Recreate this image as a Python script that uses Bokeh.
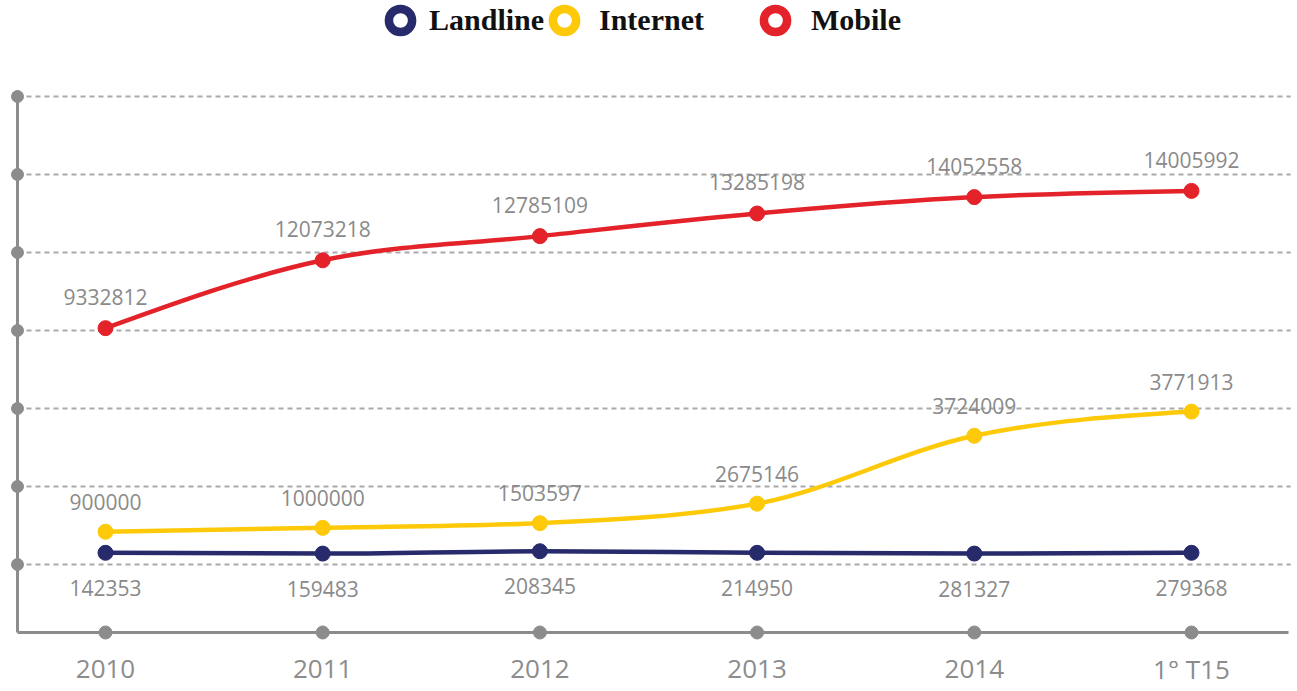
from bokeh.plotting import figure
from bokeh.models import Range1d, ColumnDataSource, Legend, LegendItem
from bokeh.embed import file_html
from bokeh.resources import INLINE
from bokeh.core.properties import value
import numpy as np

# ---------------- data ----------------
categories = ["2010", "2011", "2012", "2013", "2014", "1° T15"]
landline = [142353, 159483, 208345, 214950, 281327, 279368]
internet = [900000, 1000000, 1503597, 2675146, 3724009, 3771913]
mobile = [9332812, 12073218, 12785109, 13285198, 14052558, 14005992]
# the chart's y axis is unlabelled and not to scale: these are the heights at which
# each point is drawn in the reference, read off in gridline units
landline_level = [1.15, 1.14, 1.17, 1.15, 1.14, 1.15]
internet_level = [1.42, 1.47, 1.53, 1.78, 2.65, 2.96]
mobile_level = [4.03, 4.90, 5.21, 5.50, 5.71, 5.79]
grid_levels = [1, 2, 3, 4, 5, 6, 7]

series = [
    ("Landline", landline, landline_level, "#272a6b", 35),
    ("Internet", internet, internet_level, "#fdc908", -30),
    ("Mobile", mobile, mobile_level, "#e3222a", -31),
]

GRAY = "#8c8c8c"
W, H = 1297, 691
xs = list(range(len(categories)))

p = figure(width=W, height=H, output_backend="svg", toolbar_location=None,
           x_axis_location=None, y_axis_location=None, min_border=0,
           x_range=Range1d(-0.48343, 5.48803), y_range=Range1d(-0.62821, 8.23077),
           outline_line_color=None, background_fill_color="white")
p.xgrid.grid_line_color = None
p.ygrid.grid_line_color = None

axis_x = -0.40516  # left axis line position (x units)
base_y = 0.12821   # baseline position (level units)
right_x = 5.4466   # right end of baseline / gridlines
top_y = grid_levels[-1]

# dashed gridlines
p.segment(x0=[axis_x] * len(grid_levels), y0=grid_levels,
          x1=[right_x + 0.01] * len(grid_levels), y1=grid_levels,
          line_color="#a9a9a9", line_width=2, line_dash="5 4")

# axis lines
p.segment(x0=[axis_x, axis_x], y0=[base_y, base_y], x1=[axis_x, right_x], y1=[top_y, base_y],
          line_color=GRAY, line_width=3)
# axis dots
p.scatter(x=[axis_x] * len(grid_levels), y=grid_levels, size=12, color=GRAY)
p.scatter(x=xs, y=[base_y] * len(xs), size=13, color=GRAY)

# x labels
p.text(x=xs, y=[base_y] * len(xs), text=categories, y_offset=37,
       text_align="center", text_baseline="middle", text_font=value("Open Sans"),
       text_font_size="26px", text_color=GRAY)


def monotone_bezier(xv, yv):
    n = len(xv)
    h = [xv[i + 1] - xv[i] for i in range(n - 1)]
    s = [(yv[i + 1] - yv[i]) / h[i] for i in range(n - 1)]
    t = [0.0] * n
    for i in range(1, n - 1):
        s0, s1 = s[i - 1], s[i]
        pp = (s0 * h[i] + s1 * h[i - 1]) / (h[i - 1] + h[i])
        t[i] = (np.sign(s0) + np.sign(s1)) * min(abs(s0), abs(s1), 0.5 * abs(pp))
    t[0] = (3 * s[0] - t[1]) / 2
    t[-1] = (3 * s[-1] - t[-2]) / 2
    d = dict(x0=[], y0=[], x1=[], y1=[], cx0=[], cy0=[], cx1=[], cy1=[])
    for i in range(n - 1):
        dx = h[i] / 3
        d["x0"].append(xv[i]); d["y0"].append(yv[i])
        d["x1"].append(xv[i + 1]); d["y1"].append(yv[i + 1])
        d["cx0"].append(xv[i] + dx); d["cy0"].append(yv[i] + dx * t[i])
        d["cx1"].append(xv[i + 1] - dx); d["cy1"].append(yv[i + 1] - dx * t[i + 1])
    return ColumnDataSource(d)


for name, vals, lev, col, off in series:
    p.bezier(x0="x0", y0="y0", x1="x1", y1="y1", cx0="cx0", cy0="cy0",
             cx1="cx1", cy1="cy1", source=monotone_bezier(xs, lev),
             line_color=col, line_width=4.5, line_cap="round")
    p.scatter(x=xs, y=lev, size=15, color=col)

for name, vals, lev, col, off in series:
    p.text(x=xs, y=lev, text=[str(v) for v in vals], y_offset=off,
           text_align="center", text_baseline="middle", text_font=value("Open Sans"),
           text_font_size="21px", text_color="#8a8a8a")

# legend: one legend per entry, placed like the reference (ring markers)
legend_pos = {"Landline": (371, 642, 0), "Internet": (535, 642, 6), "Mobile": (746, 642, 7)}
for name, vals, lev, col, off in series:
    r = p.scatter(x=xs, y=lev, size=17, fill_color="white", line_color=col, line_width=8.5)
    r.visible = False
    lx, ly, standoff = legend_pos[name]
    leg = Legend(items=[LegendItem(label=name, renderers=[r])], location=(lx, ly),
                 orientation="horizontal", padding=0, margin=0, spacing=0,
                 border_line_alpha=0, background_fill_alpha=0,
                 glyph_width=58, glyph_height=58, label_standoff=standoff,
                 label_text_font="Liberation Serif", label_text_font_style="bold",
                 label_text_font_size="30px", label_text_color="#111111")
    p.add_layout(leg)

open("out.html", "w").write(file_html(p, INLINE))
